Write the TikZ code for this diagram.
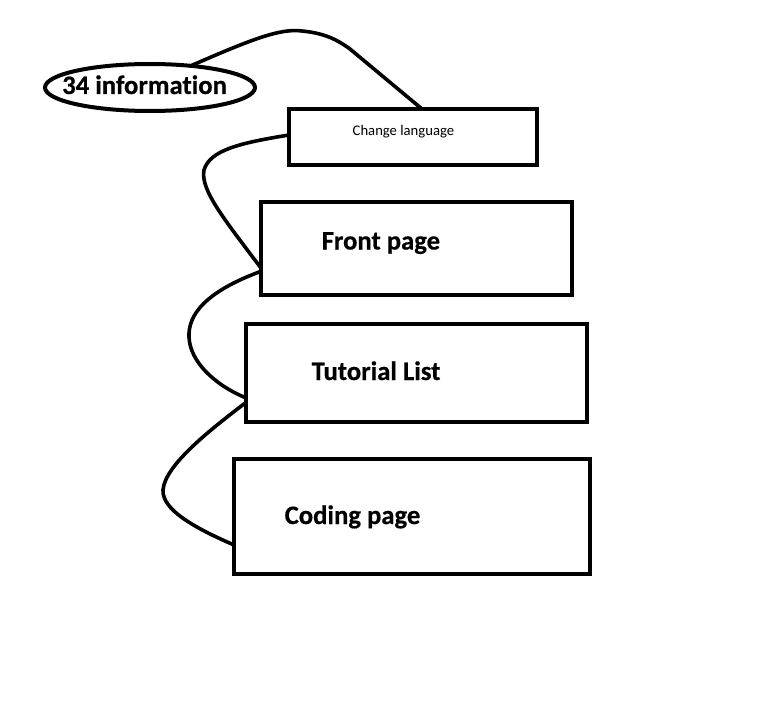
\documentclass[tikz,border=0pt]{standalone}
\usepackage{fontspec}
\setmainfont{Carlito}[Ligatures=NoCommon,BoldFeatures={FakeBold=0.5}]
\usetikzlibrary{calc,shapes.geometric}
\begin{document}
\begin{tikzpicture}[x=1pt,y=-1pt,
  boxnode/.style={draw,line width=4pt,rectangle,inner sep=0pt,outer sep=0pt},
  conn/.style={line width=3.6pt,line cap=round},
  bigtxt/.style={font=\bfseries\fontsize{26.67}{32}\selectfont,inner sep=0pt,anchor=base west},
  smalltxt/.style={font=\fontsize{14.67}{18}\selectfont,inner sep=0pt,anchor=base west}]
\useasboundingbox[fill=white] (0,0) rectangle (761,706);

\node[boxnode,ellipse,minimum width=210pt,minimum height=47pt] (info) at (150,87.5) {};
\node[bigtxt] (infot) at (62,94) {34 information};

\node[boxnode,minimum width=248pt,minimum height=56pt] (cl) at (413,137) {};
\node[smalltxt] (clt) at (352.5,136) {Change language};

\node[boxnode,minimum width=311.5pt,minimum height=93pt] (front) at (416.25,248.5) {};
\node[bigtxt] (frontt) at (321.5,249.5) {Front page};

\node[boxnode,minimum width=341.5pt,minimum height=97.5pt] (tut) at (416.25,372.75) {};
\node[bigtxt] (tutt) at (311.5,380) {Tutorial List};

\node[boxnode,minimum width=356pt,minimum height=115pt] (code) at (412,516.5) {};
\node[bigtxt] (codet) at (284.5,524) {Coding page};

\draw[conn] (info.28) .. controls (250,40) and (280,28) .. (302,31)
  .. controls (322,33) and (335,38) .. (350,49) -- ($(cl.north)+(9,0)$);
\draw[conn] ($(cl.west)+(0,-2)$) .. controls (240,143) and (210,150) .. (204,170)
  .. controls (200,190) and (225,220) .. ($(front.west)+(0,19)$);
\draw[conn] ($(front.west)+(0,23)$) .. controls (205,292) and (188,315) .. (189,337)
  .. controls (190,362) and (215,385) .. ($(tut.west)+(0,25)$);
\draw[conn] ($(tut.west)+(0,30)$) .. controls (210,430) and (165,465) .. (163,490)
  .. controls (162,510) and (195,528) .. ($(code.west)+(0,28.5)$);
\end{tikzpicture}
\end{document}
